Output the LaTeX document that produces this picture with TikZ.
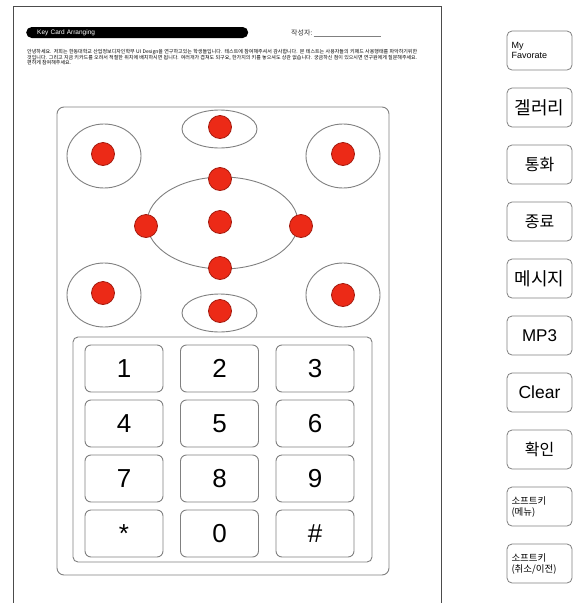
\documentclass[tikz,border=0pt]{standalone}
\usepackage{fontspec}
\setmainfont{Liberation Sans}
\newfontfamily\kr{Noto Sans CJK KR}
\usetikzlibrary{positioning, shapes.geometric}
\definecolor{rimgray}{HTML}{808080}
\definecolor{dotred}{HTML}{EC2A17}
\definecolor{dotedge}{HTML}{A51A0E}

\begin{document}
\begin{tikzpicture}[
  x=1pt, y=-1pt,
  every node/.style={font=\normalsize},
  ring/.style    = {ellipse, draw=rimgray, line width=0.9pt, inner sep=0pt},
  dot/.style     = {circle, draw=dotedge, fill=dotred, line width=0.8pt, inner sep=0pt, minimum size=23pt},
  numkey/.style  = {rounded corners=6pt, draw=rimgray, line width=0.9pt, minimum width=78pt, minimum height=47pt, inner sep=0pt, font=\fontsize{26}{26}\selectfont},
  sidekey/.style = {rounded corners=5pt, draw=rimgray, line width=0.8pt, minimum width=65pt, minimum height=39pt, inner sep=2pt},
  smallkey/.style = {sidekey, align=left, text width=56pt, inner xsep=4.5pt},
]
  \useasboundingbox (0,0) rectangle (577,603);
  \fill[white] (0,0) rectangle (577,603);
  \draw[gray!60!black, line width=0.8pt] (13,603) -- (13,6) -- (441,6) -- (441,603);

  \node[fill=black, rounded corners=5.5pt, minimum width=222pt, minimum height=11pt, inner sep=0pt,
        anchor=west, text width=200pt, align=left, text=white, font=\fontsize{6.5}{7}\selectfont] (title) at (26,32.5) {Key Card Arranging};
  \node[anchor=west, inner sep=0pt, font=\kr\fontsize{7}{8}\selectfont, gray!40!black] (writer) at (291,33)
        {작성자:\,{\color{gray}\rule[-1.5pt]{67pt}{0.6pt}}};
  \node[anchor=north west, inner sep=0pt, text width=390pt, align=justify,
        font=\kr\fontsize{5}{5.4}\selectfont] (intro) at (27,49.5)
        {안녕하세요. 저희는 한동대학교 산업정보디자인학부 UI Design을 연구하고있는 학생들입니다. 테스트에 참여해주셔서 감사합니다. 본 테스트는 사용자들의 키패드 사용행태를 파악하기위한 것입니다. 그리고 지금 키카드를 오려서 적절한 위치에 배치하시면 됩니다. 여러개가 겹쳐도 되구요, 한가지의 키를 놓으셔도 상관 없습니다. 궁금하신 점이 있으시면 연구원에게 질문해주세요. 편하게 참여해주세요.};

  \node[draw=rimgray, rounded corners=7pt, line width=0.9pt, minimum width=332pt, minimum height=468pt] (phone) at (223,341) {};
  \node[draw=rimgray, rounded corners=5pt, line width=0.9pt, minimum width=299pt, minimum height=225pt] (keypad) at (222.5,449.5) {};

  \node[ring, minimum width=75pt,  minimum height=38pt] (navtop) at (219.5,129) {};
  \node[ring, minimum width=74pt,  minimum height=64pt] (navtl)  at (104,156) {};
  \node[ring, minimum width=74pt,  minimum height=64pt] (navtr)  at (343,156) {};
  \node[ring, minimum width=151pt, minimum height=92pt] (navmid) at (222.5,223) {};
  \node[ring, minimum width=74pt,  minimum height=64pt] (navbl)  at (104,295) {};
  \node[ring, minimum width=74pt,  minimum height=64pt] (navbr)  at (343,295) {};
  \node[ring, minimum width=75pt,  minimum height=38pt] (navbot) at (219.5,313) {};

  \foreach \px/\py/\nm in {220/127/top, 103/154/tl, 343/154/tr, 220/179/up, 146/226/left, 220/222/ok,
                           301/226/right, 220/268/down, 103/293/bl, 343/295/br, 220/311/bot}
    \node[dot] (dot-\nm) at (\px,\py) {};

  \foreach \lab [count=\i from 0] in {1,2,3,4,5,6,7,8,9,*,0,\#}{
    \pgfmathtruncatemacro\col{mod(\i,3)}
    \pgfmathtruncatemacro\row{int(\i/3)}
    \node[numkey] (key-\i) at ({124+95.5*\col},{368.5+55*\row}) {\lab};
  }

  \node[smallkey, font=\fontsize{9}{10.5}\selectfont] (fav) at (539.5,50.5) {My\\Favorate};
  \node[sidekey, below=17.2pt of fav,    font=\kr\fontsize{18}{18}\selectfont] (gallery) {겔러리};
  \node[sidekey, below=17.2pt of gallery, font=\kr\fontsize{16}{16}\selectfont] (call) {통화};
  \node[sidekey, below=17.2pt of call,   font=\kr\fontsize{16}{16}\selectfont] (hangup) {종료};
  \node[sidekey, below=17.2pt of hangup, font=\kr\fontsize{18}{18}\selectfont] (msg) {메시지};
  \node[sidekey, below=17.2pt of msg,    font=\fontsize{17}{17}\selectfont] (mp3) {MP3};
  \node[sidekey, below=17.2pt of mp3,    font=\fontsize{17.5}{17.5}\selectfont] (clear) {Clear};
  \node[sidekey, below=17.2pt of clear,  font=\kr\fontsize{16}{16}\selectfont] (okkey) {확인};
  \node[smallkey, below=17.2pt of okkey, font=\kr\fontsize{9.5}{11}\selectfont] (softmenu) {소프트키\\(메뉴)};
  \node[smallkey, below=17.2pt of softmenu, font=\kr\fontsize{9.5}{11}\selectfont] (softback) {소프트키\\(취소/이전)};
\end{tikzpicture}
\end{document}
